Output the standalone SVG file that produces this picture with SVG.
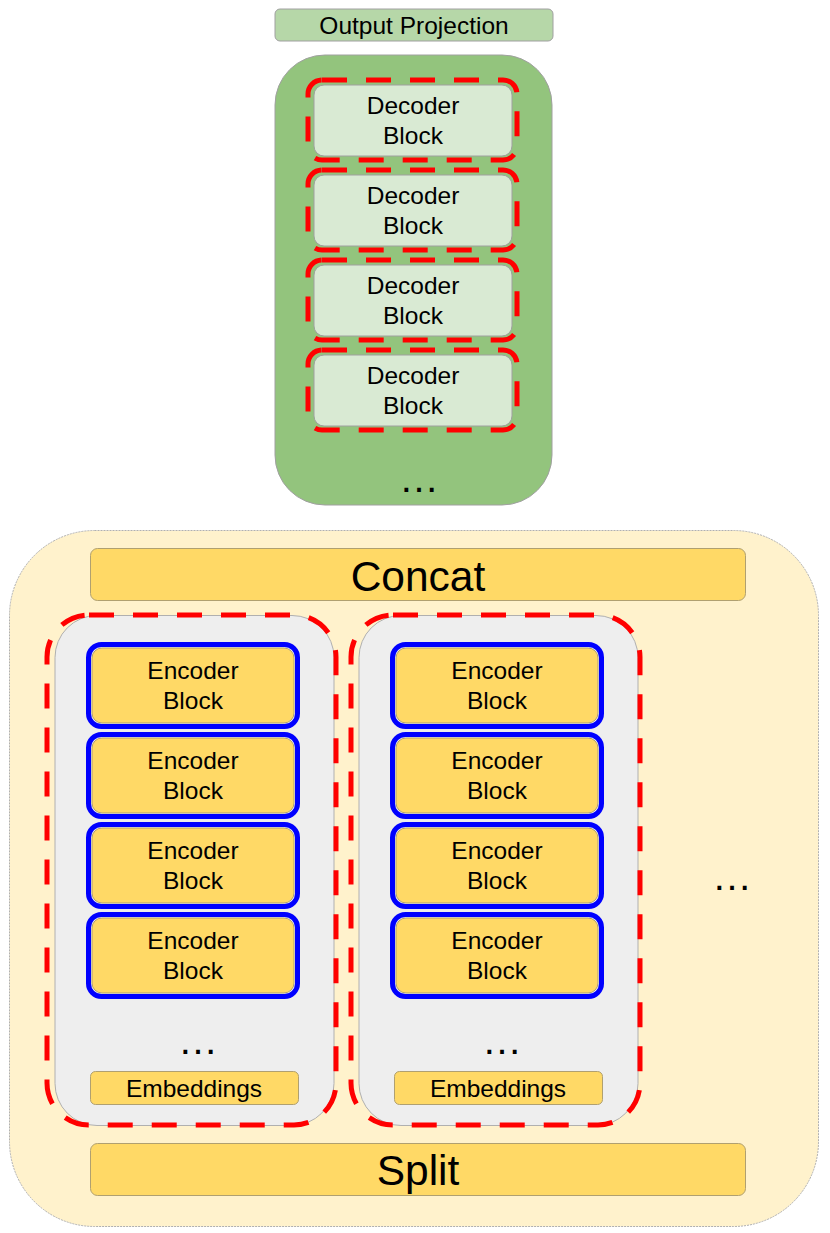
<svg xmlns="http://www.w3.org/2000/svg" width="830" height="1233" viewBox="0 0 830 1233">
<style>
text{font-family:"Liberation Sans",Arial,sans-serif;fill:#000;text-anchor:middle}
.t22{font-size:24.5px}
.t40{font-size:42.5px}
.dots{font-size:40px}
.red{fill:none;stroke:#ff0000;stroke-width:5;stroke-dasharray:25 19}
.blue{fill:none;stroke:#0000ff;stroke-width:5}
.dec{fill:#d9ead3;stroke:#a0a0a0;stroke-width:1}
.enc{fill:#ffd966;stroke:#b0a070;stroke-width:1}
</style>
<rect width="830" height="1233" fill="#fff"/>
<g id="output-projection">
<rect x="275" y="9" width="278" height="32" rx="5" fill="#b6d7a8" stroke="#a0a0a0"/>
<text class="t22" x="414" y="34">Output Projection</text>
</g>
<g id="decoder-stack">
<rect x="275" y="55" width="277" height="450" rx="50" fill="#93c47d" stroke="#a0a0a0"/>
<text class="dots" x="419" y="492">…</text>
</g>
<g id="decoder-1">
<rect class="dec" x="314" y="85" width="198" height="71" rx="10"/>
<rect class="red" x="308" y="80" width="209" height="80" rx="14"/>
<text class="t22" x="413" y="114">Decoder</text><text class="t22" x="413" y="144">Block</text>
</g>
<g id="decoder-2">
<rect class="dec" x="314" y="175" width="198" height="71" rx="10"/>
<rect class="red" x="308" y="170" width="209" height="80" rx="14"/>
<text class="t22" x="413" y="204">Decoder</text><text class="t22" x="413" y="234">Block</text>
</g>
<g id="decoder-3">
<rect class="dec" x="314" y="265" width="198" height="71" rx="10"/>
<rect class="red" x="308" y="260" width="209" height="80" rx="14"/>
<text class="t22" x="413" y="294">Decoder</text><text class="t22" x="413" y="324">Block</text>
</g>
<g id="decoder-4">
<rect class="dec" x="314" y="355" width="198" height="71" rx="10"/>
<rect class="red" x="308" y="350" width="209" height="80" rx="14"/>
<text class="t22" x="413" y="384">Decoder</text><text class="t22" x="413" y="414">Block</text>
</g>
<g id="encoder-container">
<rect x="9.5" y="530.5" width="809" height="696" rx="85" fill="#fff2cc" stroke="#b0b0b0" stroke-dasharray="2 1"/>
<text class="dots" x="732" y="890">…</text>
</g>
<g id="concat">
<rect class="enc" x="90.5" y="548.5" width="655" height="52" rx="7"/>
<text class="t40" x="418" y="591">Concat</text>
</g>
<g id="split">
<rect class="enc" x="90.5" y="1143.5" width="655" height="52" rx="7"/>
<text class="t40" x="418" y="1185">Split</text>
</g>
<g id="column-1">
<rect x="55" y="615.5" width="279" height="510" rx="42" fill="#eeeeee" stroke="#b0b0b0"/>
<rect class="red" x="47" y="615" width="289" height="510" rx="42"/>
<text class="dots" x="198" y="1054">…</text>
</g>
<g id="column-2">
<rect x="359" y="615.5" width="279" height="510" rx="42" fill="#eeeeee" stroke="#b0b0b0"/>
<rect class="red" x="351" y="615" width="289" height="510" rx="42"/>
<text class="dots" x="502" y="1054">…</text>
</g>
<g id="embeddings-1">
<rect class="enc" x="90.5" y="1071.5" width="208" height="33" rx="5"/>
<text class="t22" x="194" y="1097">Embeddings</text>
</g>
<g id="embeddings-2">
<rect class="enc" x="394.5" y="1071.5" width="208" height="33" rx="5"/>
<text class="t22" x="498" y="1097">Embeddings</text>
</g>
<g id="encoder-1-1"><rect class="enc" x="92" y="648" width="202" height="75" rx="10"/><rect class="blue" x="88.5" y="644.5" width="209" height="82" rx="13"/><text class="t22" x="193" y="679">Encoder</text><text class="t22" x="193" y="709">Block</text></g>
<g id="encoder-1-2"><rect class="enc" x="92" y="738" width="202" height="75" rx="10"/><rect class="blue" x="88.5" y="734.5" width="209" height="82" rx="13"/><text class="t22" x="193" y="769">Encoder</text><text class="t22" x="193" y="799">Block</text></g>
<g id="encoder-1-3"><rect class="enc" x="92" y="828" width="202" height="75" rx="10"/><rect class="blue" x="88.5" y="824.5" width="209" height="82" rx="13"/><text class="t22" x="193" y="859">Encoder</text><text class="t22" x="193" y="889">Block</text></g>
<g id="encoder-1-4"><rect class="enc" x="92" y="918" width="202" height="75" rx="10"/><rect class="blue" x="88.5" y="914.5" width="209" height="82" rx="13"/><text class="t22" x="193" y="949">Encoder</text><text class="t22" x="193" y="979">Block</text></g>
<g id="encoder-2-1"><rect class="enc" x="396" y="648" width="202" height="75" rx="10"/><rect class="blue" x="392.5" y="644.5" width="209" height="82" rx="13"/><text class="t22" x="497" y="679">Encoder</text><text class="t22" x="497" y="709">Block</text></g>
<g id="encoder-2-2"><rect class="enc" x="396" y="738" width="202" height="75" rx="10"/><rect class="blue" x="392.5" y="734.5" width="209" height="82" rx="13"/><text class="t22" x="497" y="769">Encoder</text><text class="t22" x="497" y="799">Block</text></g>
<g id="encoder-2-3"><rect class="enc" x="396" y="828" width="202" height="75" rx="10"/><rect class="blue" x="392.5" y="824.5" width="209" height="82" rx="13"/><text class="t22" x="497" y="859">Encoder</text><text class="t22" x="497" y="889">Block</text></g>
<g id="encoder-2-4"><rect class="enc" x="396" y="918" width="202" height="75" rx="10"/><rect class="blue" x="392.5" y="914.5" width="209" height="82" rx="13"/><text class="t22" x="497" y="949">Encoder</text><text class="t22" x="497" y="979">Block</text></g>
<g id="connectors"></g>
</svg>
